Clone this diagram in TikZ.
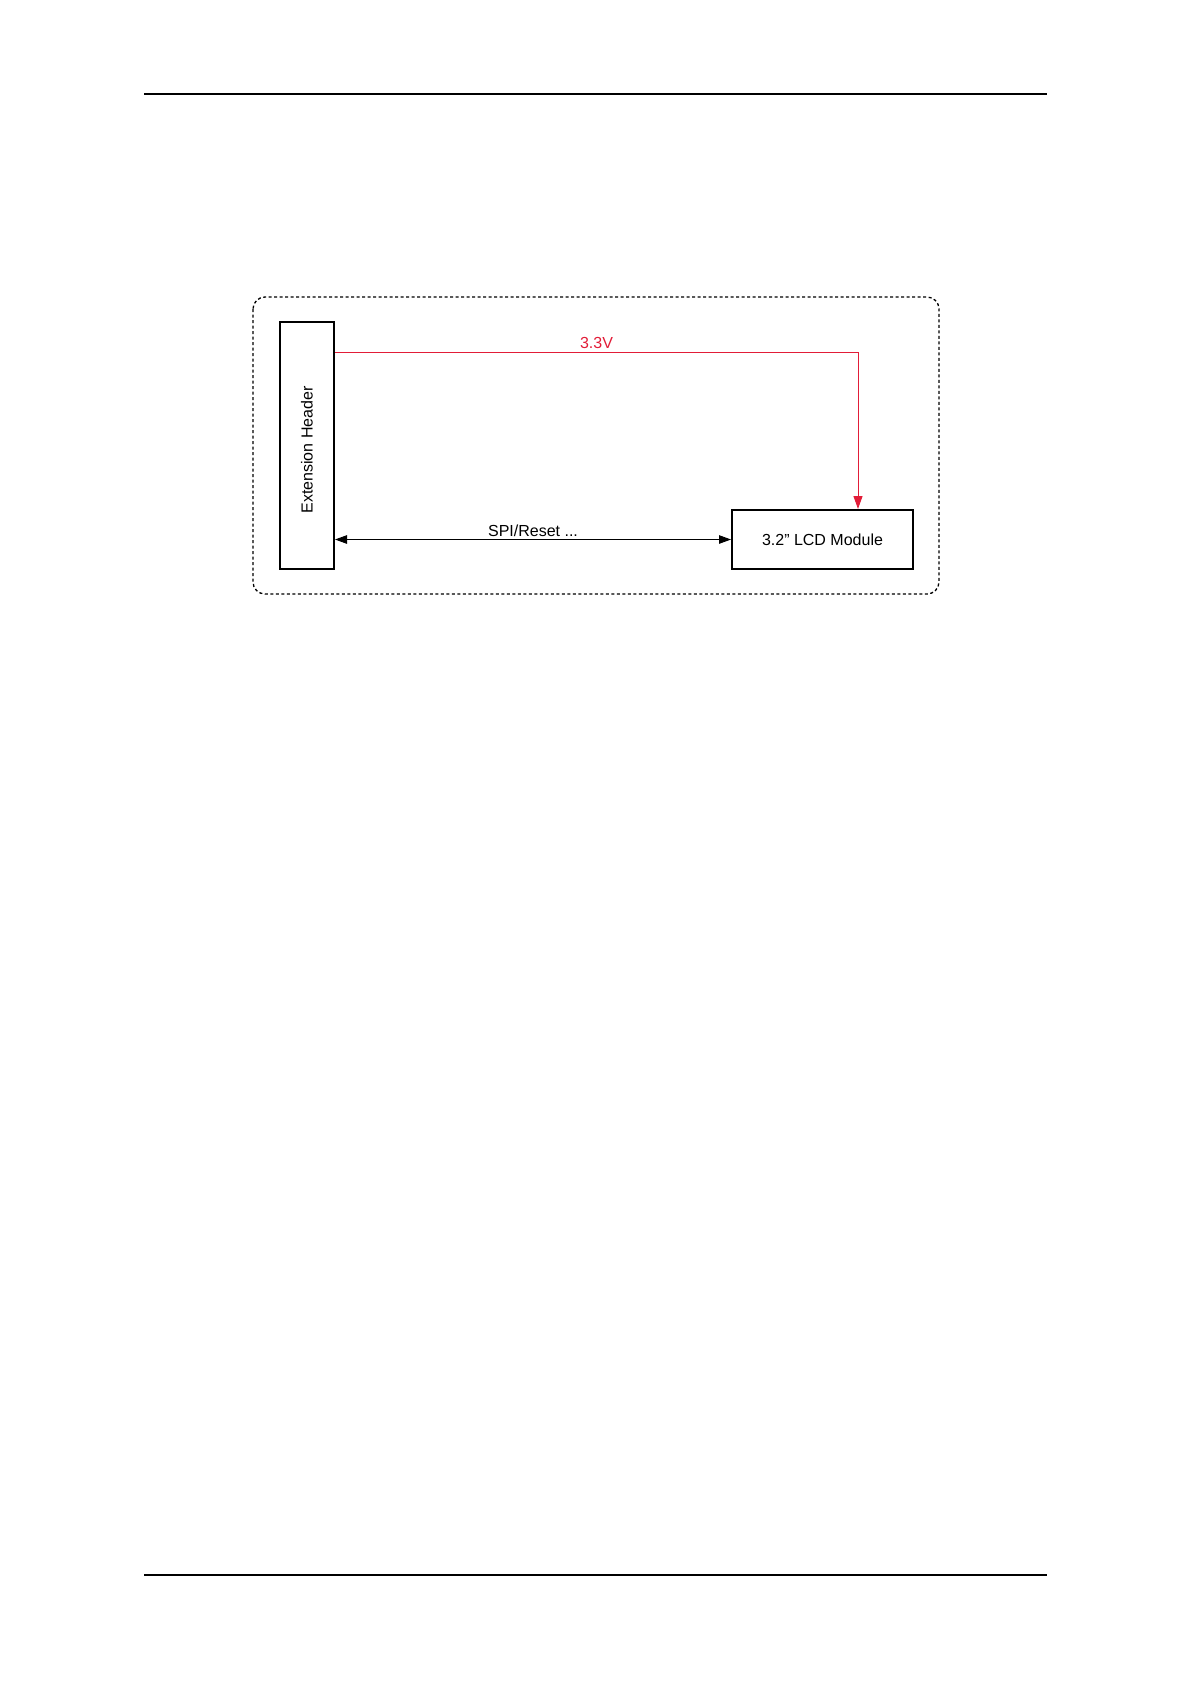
\documentclass[tikz,border=0pt]{standalone}
\usepackage{fontspec}
\setmainfont{Liberation Sans}
\usetikzlibrary{arrows.meta}
\definecolor{pwr}{RGB}{226,29,56}
\begin{document}
\begin{tikzpicture}[x=1pt,y=-1pt,
  blockbox/.style={draw=black,line width=2pt,inner sep=0pt,fill=white},
  rule/.style={line width=1.3pt,draw=black},
  frame/.style={line width=1.3pt,dash pattern=on 3pt off 2.5pt,rounded corners=12pt},
  sig/.style={line width=1pt,{Triangle[length=12pt,width=8.5pt]}-{Triangle[length=12pt,width=8.5pt]}},
  pwrline/.style={line width=1pt,draw=pwr,-{Triangle[length=13pt,width=9pt]}},
  lbl/.style={font=\fontsize{16}{19}\selectfont,inner sep=0pt}
]
\useasboundingbox (0,0) rectangle (1191,1684);
% page rules
\coordinate (tl) at (144,94);
\coordinate (tr) at (1047,94);
\coordinate (bl) at (144,1575);
\coordinate (br) at (1047,1575);
\draw[rule] (tl) -- (tr);
\draw[rule] (bl) -- (br);
% dashed frame
\coordinate (fa) at (253,297);
\coordinate (fb) at (939,594);
\draw[frame] (fa) rectangle (fb);
% blocks
\node[blockbox,minimum width=54pt,minimum height=247pt] (header) at (307,445.5) {};
\node[lbl] (headertext) at (307,450) {\rotatebox{90}{Extension Header}};
\node[blockbox,minimum width=181pt,minimum height=59pt,lbl] (lcd) at (822.5,539.5) {3.2” LCD Module};
% power
\coordinate (v) at (858,352);
\draw[pwrline] (header.east |- v) -- node[lbl,text=pwr,anchor=base,yshift=4pt] (vlabel) {3.3V} (v) -- (lcd.north -| v);
% signals
\draw[sig] (header.east |- lcd.west) -- node[lbl,anchor=base,yshift=3.5pt] (spilabel) {SPI/Reset ...} (lcd.west);
\end{tikzpicture}
\end{document}
